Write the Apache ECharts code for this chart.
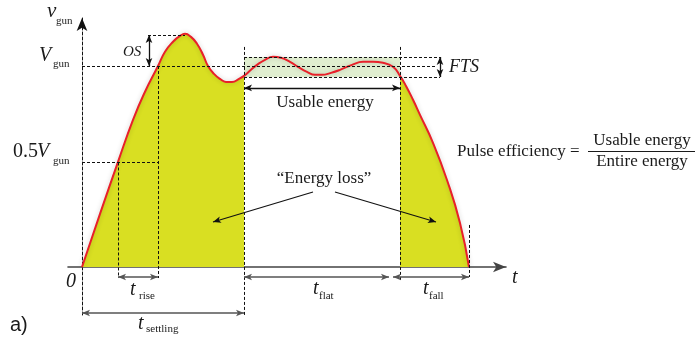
<!DOCTYPE html>
<html><head><meta charset="utf-8">
<script src="https://cdn.jsdelivr.net/npm/echarts@6/dist/echarts.min.js"></script>
<style>html,body{margin:0;padding:0;background:#fff}#c{width:695px;height:342px}</style>
</head><body><div id="c"></div>
<script>
// ---- data (t in arbitrary time units, v normalised to V_gun = 1) ----
const tSettle = [0, 1.8, 3.6, 5.1, 6.3, 7.6, 8.3, 9.1, 9.8, 10.3, 10.9, 11.5, 12.1, 12.6, 13.2, 13.8, 14.4, 15.0, 15.7, 16.2];
const vSettle = [0, 0.264, 0.523, 0.732, 0.872, 1.0, 1.071, 1.121, 1.150, 1.160, 1.145, 1.111, 1.056, 1.0, 0.961, 0.936, 0.921, 0.921, 0.936, 0.951];
const tFlat = [16.2, 16.9, 17.5, 18.3, 19.1, 19.9, 20.8, 21.6, 22.5, 23.3, 24.0, 24.9, 25.8, 27.0, 28.1, 29.1, 30.1, 31.1, 31.8];
const vFlat = [0.951, 0.981, 1.006, 1.031, 1.046, 1.041, 1.021, 0.996, 0.971, 0.956, 0.956, 0.966, 0.981, 1.006, 1.021, 1.021, 1.016, 0.996, 0.951];
const tFall = [31.8, 32.4, 33.1, 33.8, 35.1, 36.5, 37.8, 38.7];
const vFall = [0.951, 0.901, 0.832, 0.757, 0.618, 0.433, 0.219, 0];

// key levels / instants
const V_GUN = 1.0, V_HALF = 0.52, V_PEAK = 1.154, FTS_HI = 1.045, FTS_LO = 0.945;
const T_HALF = 3.6, T_RISE = 7.6, T_SETTLE = 16.2, T_FLAT_END = 31.8, T_END = 38.7;

const zip = (t, v) => t.map((x, i) => [x, v[i]]);
const settle = zip(tSettle, vSettle), flat = zip(tFlat, vFlat), fall = zip(tFall, vFall);
const full = settle.concat(flat.slice(1), fall.slice(1));

const chart = echarts.init(document.getElementById('c'), null, {renderer: 'canvas'});
const INK = '#1a1a1a';
const SM = 0.5;
const dashed = {color: '#111', width: 1, type: [3, 2]};
const seg = (a, b) => [{coord: a}, {coord: b}];

const option = {
  animation: false,
  grid: {left: 68, right: 189, top: 18, bottom: 27},
  xAxis: {type: 'value', min: -1.4, max: 42.4,
    axisLine: {onZero: true, symbol: ['none', 'arrow'], symbolSize: [8, 13], lineStyle: {color: '#444', width: 1.6}},
    axisTick: {show: false}, axisLabel: {show: false}, splitLine: {show: false}},
  yAxis: {type: 'value', min: -0.239, max: 1.239,
    axisLine: {show: true, onZero: true, symbol: ['none', 'arrow'], symbolSize: [8, 13], lineStyle: {color: '#111', width: 1, type: [3, 2]}},
    axisTick: {show: false}, axisLabel: {show: false}, splitLine: {show: false}},
  series: [
    {type: 'line', data: settle, smooth: SM, symbol: 'none', silent: true,
     lineStyle: {width: 0}, areaStyle: {color: '#d9df22', opacity: 1}},
    {type: 'line', data: fall, smooth: SM, symbol: 'none', silent: true,
     lineStyle: {width: 0}, areaStyle: {color: '#d9df22', opacity: 1}},
    {type: 'line', data: full, smooth: SM, symbol: 'none', silent: true,
     lineStyle: {color: '#e8202a', width: 2, shadowColor: 'rgba(0,0,0,0.2)', shadowBlur: 5},
     markArea: {silent: true, itemStyle: {color: 'rgba(214,232,192,0.75)'},
       data: [[{coord: [T_SETTLE, FTS_HI]}, {coord: [T_FLAT_END, FTS_LO]}]]}},
    // dashed guide lines
    {type: 'line', data: [], silent: true,
     markLine: {silent: true, symbol: 'none', label: {show: false}, lineStyle: dashed,
       data: [
         seg([0, V_GUN], [35.5, V_GUN]),
         seg([0, V_HALF], [T_RISE, V_HALF]),
         seg([T_HALF, V_HALF], [T_HALF, -0.055]),
         seg([T_RISE, V_GUN], [T_RISE, -0.055]),
         seg([T_SETTLE, 1.095], [T_SETTLE, -0.239]),
         seg([T_FLAT_END, 1.095], [T_FLAT_END, -0.065]),
         seg([T_END, 0.209], [T_END, -0.05]),
         seg([6.6, V_PEAK], [10.3, V_PEAK]),
         seg([T_SETTLE, FTS_HI], [35.8, FTS_HI]),
         seg([T_SETTLE, FTS_LO], [35.8, FTS_LO])
       ]}},
    // time-interval arrows
    {type: 'line', data: [], silent: true,
     markLine: {silent: true, symbol: ['arrow', 'arrow'], symbolSize: [5, 8], label: {show: false},
       lineStyle: {color: '#555', width: 1.6, type: 'solid'},
       data: [
         seg([T_HALF, -0.05], [T_RISE, -0.05]),
         seg([0, -0.229], [T_SETTLE, -0.229]),
         seg([T_SETTLE, -0.05], [30.7, -0.05]),
         seg([31.1, -0.05], [T_END, -0.05])
       ]}},
    // black double arrows
    {type: 'line', data: [], silent: true,
     markLine: {silent: true, symbol: ['arrow', 'arrow'], symbolSize: [5, 8], label: {show: false},
       lineStyle: {color: '#111', width: 1.3, type: 'solid'},
       data: [
         seg([6.7, V_PEAK], [6.7, V_GUN]),
         seg([35.8, FTS_HI], [35.8, FTS_LO]),
         seg([T_SETTLE, 0.891], [T_FLAT_END, 0.891])
       ]}},
    // energy-loss pointers
    {type: 'line', data: [], silent: true,
     markLine: {silent: true, symbol: ['none', 'arrow'], symbolSize: [5, 8], label: {show: false},
       lineStyle: {color: '#111', width: 1.1, type: 'solid'},
       data: [
         seg([23.1, 0.373], [13.1, 0.224]),
         seg([25.3, 0.373], [35.4, 0.224])
       ]}}
  ]
};
chart.setOption(option);

const SERIF = '"Liberation Serif", "Times New Roman", serif';
function T(text, x, base, size, italic, align, family) {
  return {type: 'text', x: x, y: base - 0.32 * size, silent: true, z: 100,
    style: {text: text, font: (italic ? 'italic ' : '') + size + 'px ' + (family || SERIF),
      fill: INK, align: align || 'left', verticalAlign: 'middle'}};
}
chart.setOption({graphic: [
  T('v', 47, 18, 21, true), T('gun', 56, 25, 11),
  T('V', 39, 62, 20, true), T('gun', 53, 68, 11),
  T('0.5', 13, 158, 20), T('V', 37, 158, 20, true), T('gun', 53, 165, 11),
  T('OS', 123, 57, 15, true),
  T('FTS', 449, 73, 18, true),
  T('Usable energy', 325, 108, 17, false, 'center'),
  T('\u201CEnergy loss\u201D', 324, 184, 17, false, 'center'),
  T('Pulse efficiency =', 457, 157, 17),
  T('Usable energy', 642, 146, 17, false, 'center'),
  T('Entire energy', 642, 167, 17, false, 'center'),
  {type: 'line', silent: true, z: 100, shape: {x1: 588, y1: 151.5, x2: 695, y2: 151.5}, style: {stroke: INK, lineWidth: 1}},
  T('t', 512, 284, 20, true),
  T('0', 66, 288, 20, true),
  T('t', 130, 296, 20, true), T('rise', 139, 300, 11),
  T('t', 138, 330, 20, true), T('settling', 146, 333, 11),
  T('t', 313, 295, 20, true), T('flat', 319, 300, 11),
  T('t', 423, 295, 20, true), T('fall', 429, 300, 11),
  T('a)', 10, 332, 20, false, 'left', '"Liberation Sans", Arial, sans-serif')
]});
</script></body></html>
